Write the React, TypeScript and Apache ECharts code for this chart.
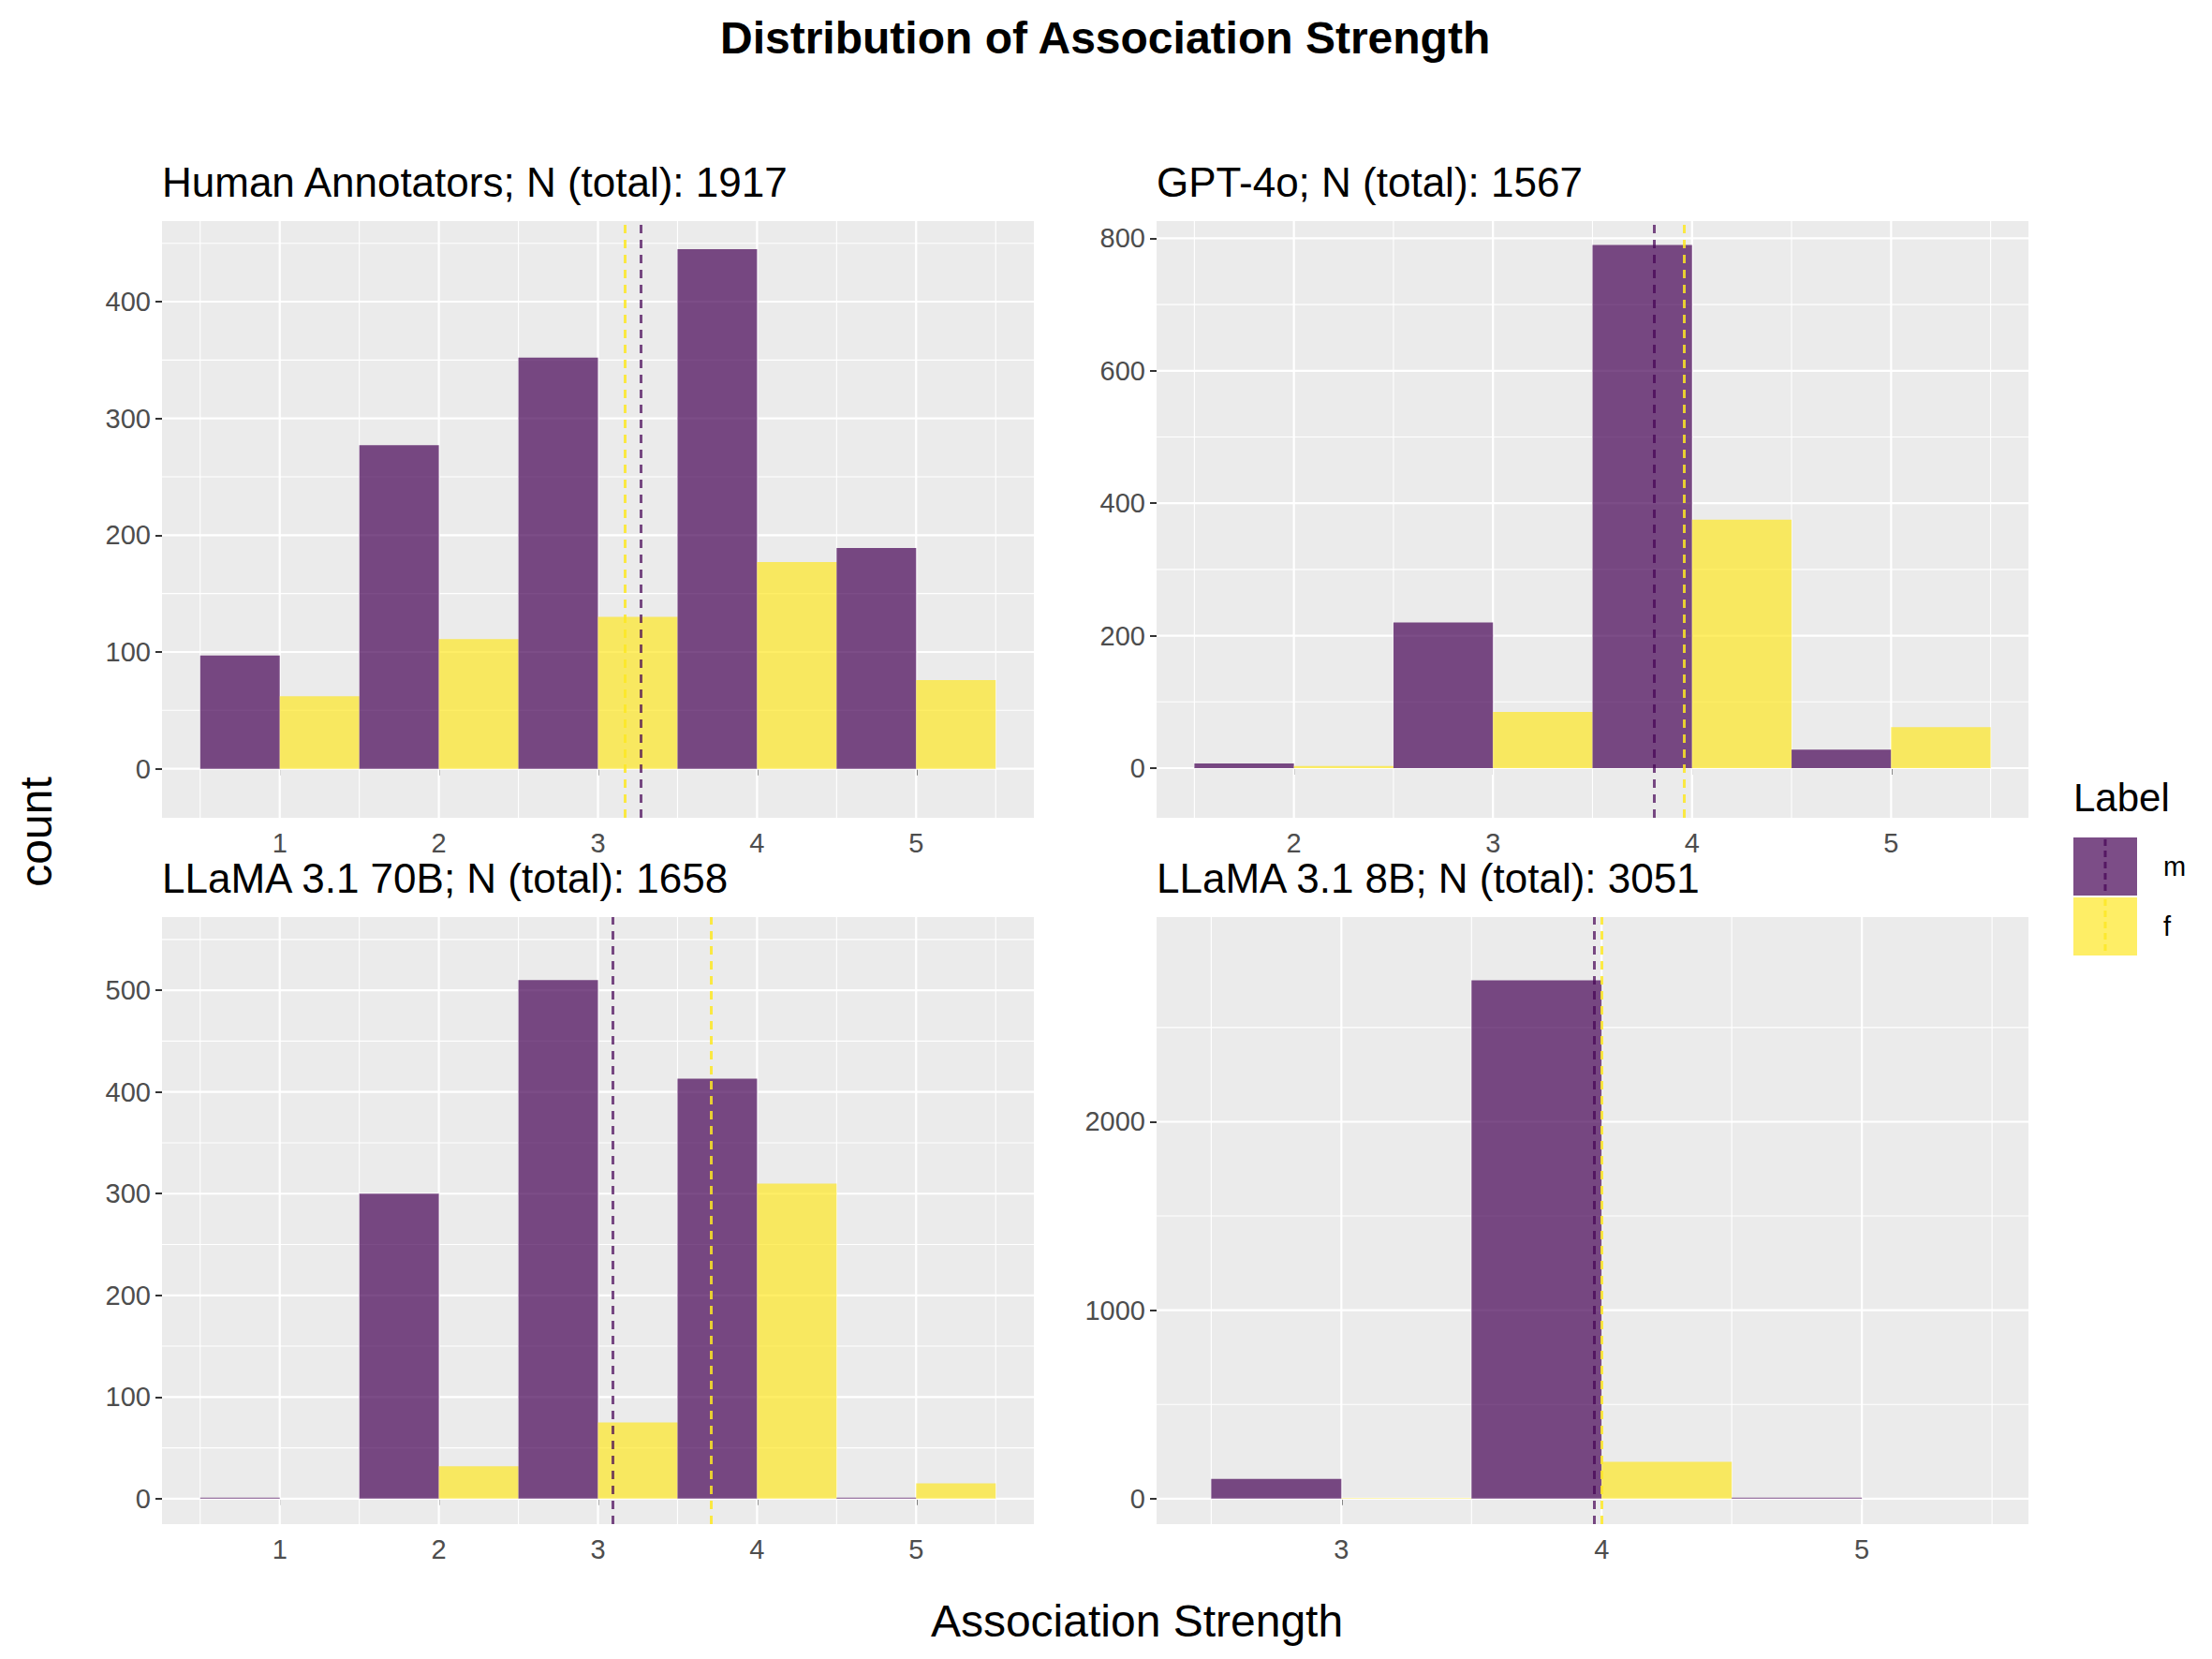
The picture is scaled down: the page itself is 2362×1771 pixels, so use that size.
import React, { useEffect, useRef } from "react";
import * as echarts from "echarts";

const titles = [
  "Human Annotators; N (total): 1917",
  "GPT-4o; N (total): 1567",
  "LLaMA 3.1 70B; N (total): 1658",
  "LLaMA 3.1 8B; N (total): 3051",
];
const bins1 = [1, 2, 3, 4, 5];
const m1 = [97, 277, 352, 445, 189];
const f1 = [62, 111, 130, 177, 76];
const bins2 = [2, 3, 4, 5];
const m2 = [7, 220, 790, 28];
const f2 = [3, 85, 375, 62];
const bins3 = [1, 2, 3, 4, 5];
const m3 = [1, 300, 510, 413, 1];
const f3 = [0, 32, 75, 310, 15];
const bins4 = [3, 4, 5];
const m4 = [105, 2750, 5];
const f4 = [3, 195, 0];
const meanM = [3.27, 3.81, 3.09, 3.97];
const meanF = [3.17, 3.96, 3.71, 4.0];
const xTicks = [[1, 2, 3, 4, 5], [2, 3, 4, 5], [1, 2, 3, 4, 5], [3, 4, 5]];
const yTicks = [[0, 100, 200, 300, 400], [0, 200, 400, 600, 800], [0, 100, 200, 300, 400, 500], [0, 1000, 2000]];
const xRange = [[0.26, 5.74], [1.31, 5.69], [0.26, 5.74], [2.29, 5.64]];
const yRange = [[-42, 469], [-75, 826], [-25, 572], [-135, 3086]];

const PURPLE = "#440154";
const YELLOW = "#FDE725";
const FONT = "Liberation Sans";

export default function App() {
  const ref = useRef<HTMLDivElement>(null);
  useEffect(() => {
    const chart = echarts.init(ref.current!, null, { renderer: "svg" });
    const grids = [
      { left: 165, top: 228, width: 931, height: 637 },
      { left: 1227, top: 228, width: 931, height: 637 },
      { left: 165, top: 971, width: 931, height: 648 },
      { left: 1227, top: 971, width: 931, height: 648 },
    ];
    const panels = [
      [bins1, m1, f1], [bins2, m2, f2], [bins3, m3, f3], [bins4, m4, f4],
    ];
    const series: any[] = [];
    const xAxis: any[] = [];
    const yAxis: any[] = [];
    const graphic: any[] = [];
    panels.forEach((p, i) => {
      const [bins, m, f] = p as number[][];
      xAxis.push({
        type: "value", gridIndex: i, min: xRange[i][0], max: xRange[i][1],
        axisLine: { show: false }, splitLine: { show: false },
        axisTick: { show: true, customValues: xTicks[i], length: 7, lineStyle: { color: "#333", width: 2 } },
        axisLabel: { customValues: xTicks[i], fontSize: 29, color: "#4D4D4D", margin: 12, fontFamily: FONT },
      });
      yAxis.push({
        type: "value", gridIndex: i, min: yRange[i][0], max: yRange[i][1],
        axisLine: { show: false }, splitLine: { show: false },
        axisTick: { show: true, customValues: yTicks[i], length: 7, lineStyle: { color: "#333", width: 2 } },
        axisLabel: { customValues: yTicks[i], fontSize: 29, color: "#4D4D4D", margin: 12, fontFamily: FONT, formatter: (v: number) => String(v) },
      });
      const gridData: any[] = [];
      xTicks[i].forEach((t) => gridData.push([0, t, 1]));
      for (let v = Math.ceil(xRange[i][0] * 2) / 2; v <= xRange[i][1]; v += 0.5)
        if (!xTicks[i].includes(v)) gridData.push([0, v, 0]);
      const yStep = yTicks[i][1] - yTicks[i][0];
      yTicks[i].forEach((t) => gridData.push([1, t, 1]));
      for (let v = yTicks[i][0] - yStep / 2; v <= yRange[i][1]; v += yStep)
        if (v >= yRange[i][0]) gridData.push([1, v, 0]);
      series.push({
        type: "custom", xAxisIndex: i, yAxisIndex: i, silent: true, z: 1,
        data: gridData,
        renderItem: (params: any, api: any) => {
          const cs = params.coordSys;
          const dir = api.value(0), v = api.value(1), major = api.value(2);
          const style = { stroke: "#FFFFFF", lineWidth: major ? 2.2 : 1.1 };
          if (dir === 0) {
            const x = api.coord([v, yRange[i][0]])[0];
            return { type: "line", shape: { x1: x, y1: cs.y, x2: x, y2: cs.y + cs.height }, style };
          }
          const y = api.coord([xRange[i][0], v])[1];
          return { type: "line", shape: { x1: cs.x, y1: y, x2: cs.x + cs.width, y2: y }, style };
        },
      });
      const barData: any[] = [];
      bins.forEach((b, k) => {
        barData.push([b, m[k], 0]);
        barData.push([b, f[k], 1]);
      });
      series.push({
        type: "custom", xAxisIndex: i, yAxisIndex: i, z: 2,
        data: barData,
        renderItem: (params: any, api: any) => {
          const b = api.value(0), c = api.value(1), s = api.value(2);
          const x0 = s === 0 ? b - 0.5 : b;
          const p0 = api.coord([x0, c]);
          const p1 = api.coord([x0 + 0.5, 0]);
          return {
            type: "rect",
            shape: { x: p0[0], y: p0[1], width: p1[0] - p0[0], height: p1[1] - p0[1] },
            style: { fill: s === 0 ? PURPLE : YELLOW, opacity: 0.7 },
          };
        },
      });
      series.push({
        type: "line", xAxisIndex: i, yAxisIndex: i, data: [], z: 3,
        markLine: {
          silent: true, symbol: "none", label: { show: false },
          data: [
            { xAxis: meanF[i], lineStyle: { color: YELLOW, type: [9, 7], width: 3, opacity: 0.85 } },
            { xAxis: meanM[i], lineStyle: { color: PURPLE, type: [9, 7], width: 3, opacity: 0.7 } },
          ],
        },
      });
      graphic.push({
        type: "text", left: grids[i].left, top: grids[i].top - 64,
        style: { text: titles[i], fontSize: 44, fill: "#000", fontFamily: FONT },
      });
    });
    graphic.push(
      { type: "text", left: "center", top: 8, style: { text: "Distribution of Association Strength", fontSize: 48, fontWeight: "bold", fill: "#000", fontFamily: FONT } },
      { type: "text", x: 1206, y: 1722, style: { text: "Association Strength", fontSize: 48, fill: "#000", align: "center", verticalAlign: "middle", fontFamily: FONT } },
      { type: "text", x: 30, y: 880, rotation: Math.PI / 2, style: { text: "count", fontSize: 48, fill: "#000", align: "center", verticalAlign: "middle", fontFamily: FONT } },
      { type: "text", x: 2206, y: 822, style: { text: "Label", fontSize: 42, fill: "#000", fontFamily: FONT } },
      { type: "rect", shape: { x: 2206, y: 886, width: 68, height: 62 }, style: { fill: PURPLE, opacity: 0.7 } },
      { type: "line", shape: { x1: 2240, y1: 888, x2: 2240, y2: 946 }, style: { stroke: PURPLE, lineWidth: 3, lineDash: [7, 5], opacity: 0.7 } },
      { type: "rect", shape: { x: 2206, y: 950, width: 68, height: 62 }, style: { fill: YELLOW, opacity: 0.7 } },
      { type: "line", shape: { x1: 2240, y1: 952, x2: 2240, y2: 1010 }, style: { stroke: YELLOW, lineWidth: 3, lineDash: [7, 5], opacity: 0.85 } },
      { type: "text", x: 2302, y: 917, style: { text: "m", fontSize: 29, fill: "#000", verticalAlign: "middle", fontFamily: FONT } },
      { type: "text", x: 2302, y: 981, style: { text: "f", fontSize: 29, fill: "#000", verticalAlign: "middle", fontFamily: FONT } },
    );
    chart.setOption({
      animation: false,
      backgroundColor: "#FFFFFF",
      grid: grids.map((g) => ({ ...g, show: true, backgroundColor: "#EBEBEB", borderWidth: 0 })),
      xAxis, yAxis, series, graphic,
    });
    return () => chart.dispose();
  }, []);
  return <div ref={ref} style={{ width: 2346, height: 1755 }} />;
}
